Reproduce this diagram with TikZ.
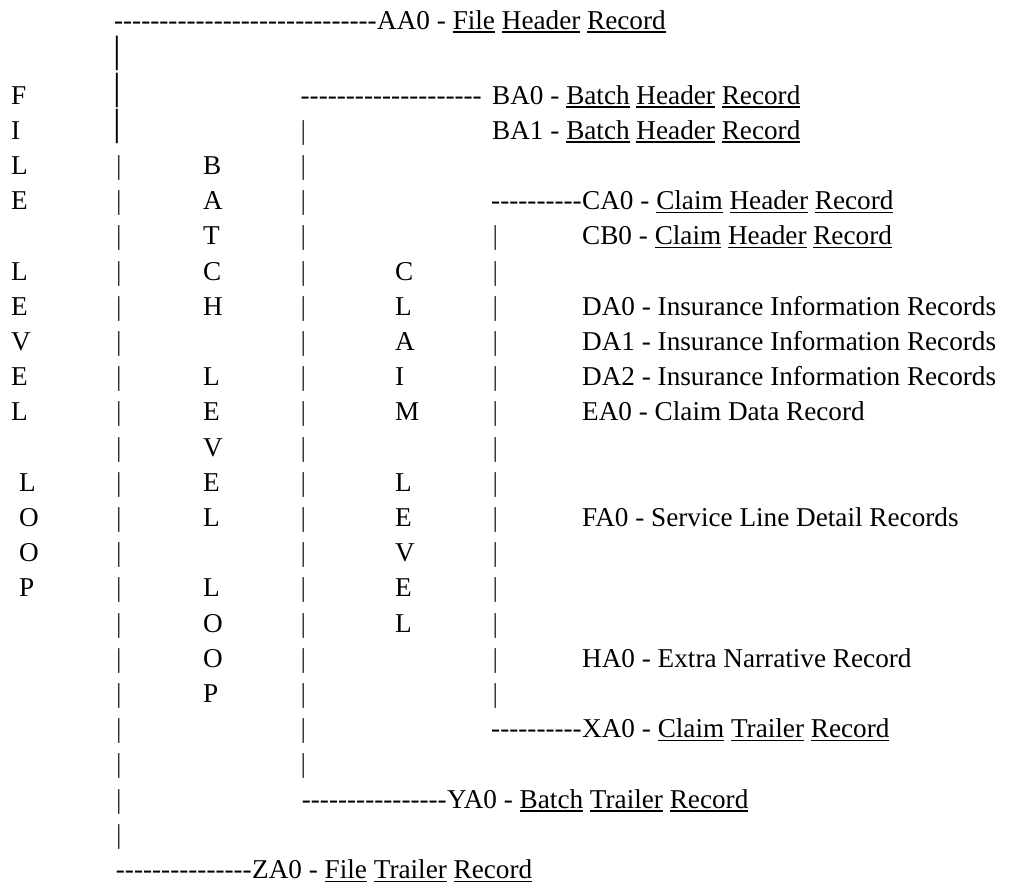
\documentclass[tikz,border=0pt]{standalone}
\usepackage{fontspec}
\setmainfont{Liberation Serif}
\usetikzlibrary{positioning}

\newcommand{\dashrun}[1]{\foreach \k in {1,...,#1}{\mbox{-}}}
\newcommand{\ulword}[1]{\setbox0=\hbox{#1}\rlap{\rule[-3.6pt]{\wd0}{1.5pt}}\box0\relax}

\begin{document}
\begin{tikzpicture}[x=1pt, y=-1pt,
    txt/.style={font=\fontsize{27.2}{35.2}\selectfont, inner sep=0pt, anchor=base west},
    rec/.style={txt},
    dashrow/.style={txt, anchor=base east},
    word/.style={txt, align=left},
    bars/.style={txt, align=left, text=black!85},
    tallbar/.style={font=\fontsize{38}{38}\selectfont, inner sep=0pt, anchor=base}
]
    \useasboundingbox (0,0) rectangle (1032,886);

    % Records - file level
    \node[rec] (aa0) at (377,29) {AA0 - \ulword{File} \ulword{Header} \ulword{Record}};
    \node[dashrow] (aa0dash) at (aa0.base west) {\dashrun{29}};
    \node[rec] (za0) at (252,878.4) {ZA0 - \ulword{File} \ulword{Trailer} \ulword{Record}};
    \node[dashrow] (za0dash) at (za0.base west) {\dashrun{15}};

    % Records - batch level
    \node[rec] (ba0) at (492,104) {BA0 - \ulword{Batch} \ulword{Header} \ulword{Record}};
    \node[dashrow] (ba0dash) at ([xshift=-10pt]ba0.base west) {\dashrun{20}};
    \node[rec] (ba1) at (492,139.2) {BA1 - \ulword{Batch} \ulword{Header} \ulword{Record}};
    \node[rec] (ya0) at (447,808) {YA0 - \ulword{Batch} \ulword{Trailer} \ulword{Record}};
    \node[dashrow] (ya0dash) at (ya0.base west) {\dashrun{16}};

    % Records - claim level
    \node[rec] (ca0) at (582,209.6) {CA0 - \ulword{Claim} \ulword{Header} \ulword{Record}};
    \node[dashrow] (ca0dash) at (ca0.base west) {\dashrun{10}};
    \node[rec] (cb0) at (582,244.8) {CB0 - \ulword{Claim} \ulword{Header} \ulword{Record}};
    \node[rec] (da0) at (582,315.2) {DA0 - Insurance Information Records};
    \node[rec] (da1) at (582,350.4) {DA1 - Insurance Information Records};
    \node[rec] (da2) at (582,385.6) {DA2 - Insurance Information Records};
    \node[rec] (ea0) at (582,420.8) {EA0 - Claim Data Record};
    \node[rec] (fa0) at (582,526.4) {FA0 - Service Line Detail Records};
    \node[rec] (ha0) at (582,667.2) {HA0 - Extra Narrative Record};
    \node[rec] (xa0) at (582,737.6) {XA0 - \ulword{Claim} \ulword{Trailer} \ulword{Record}};
    \node[dashrow] (xa0dash) at (xa0.base west) {\dashrun{10}};

    % Loop names (base = last line)
    \node[word] (fileloop) at (11,596.8) {F\\I\\L\\E\\\mbox{}\\L\\E\\V\\E\\L\\\mbox{}\\\hspace{8pt}L\\\hspace{8pt}O\\\hspace{8pt}O\\\hspace{8pt}P};
    \node[word] (batchloop) at (203,702.4) {B\\A\\T\\C\\H\\\mbox{}\\L\\E\\V\\E\\L\\\mbox{}\\L\\O\\O\\P};
    \node[word] (claimloop) at (395,632) {C\\L\\A\\I\\M\\\mbox{}\\L\\E\\V\\E\\L};

    % Bars (base = last line)
    \node[tallbar] (filetop1) at (117.5,62) {|};
    \node[tallbar] (filetop2) at (117.5,99) {|};
    \node[tallbar] (filetop3) at (117.5,135) {|};
    \node[bars] (filebar) at (116,843.2) {|\\|\\|\\|\\|\\|\\|\\|\\|\\|\\|\\|\\|\\|\\|\\|\\|\\|\\|\\|};
    \node[bars] (batchbar) at (300.5,772.8) {|\\|\\|\\|\\|\\|\\|\\|\\|\\|\\|\\|\\|\\|\\|\\|\\|\\|\\|};
    \node[bars] (claimbar) at (492.5,702.4) {|\\|\\|\\|\\|\\|\\|\\|\\|\\|\\|\\|\\|\\|};
\end{tikzpicture}
\end{document}
